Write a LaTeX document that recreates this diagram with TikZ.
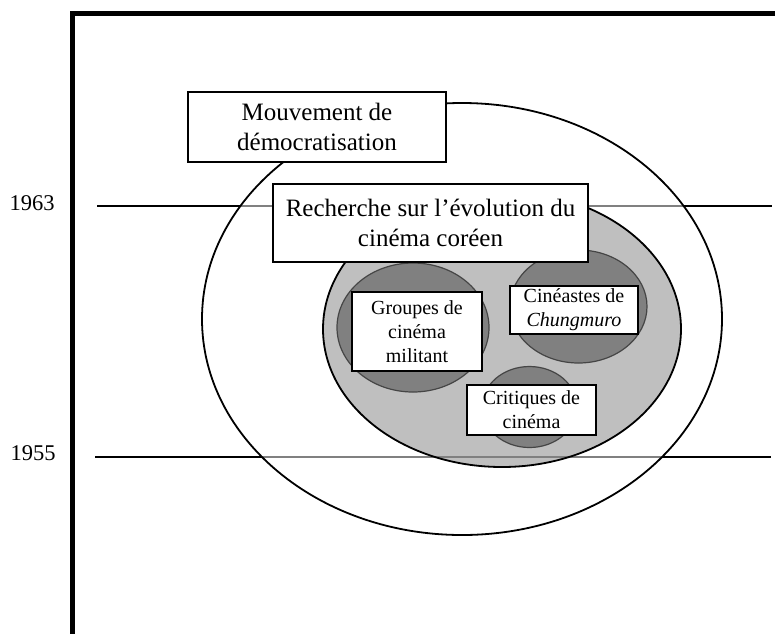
\documentclass[tikz,border=0pt]{standalone}
\usepackage{fontspec}
\setmainfont{Liberation Serif}
\usepackage{tikz}
\usetikzlibrary{positioning}
\definecolor{midgray}{gray}{0.5}
\definecolor{darkring}{gray}{0.27}

\begin{document}
\begin{tikzpicture}[x=1pt, y=-1pt,
        box/.style={draw, line width=1.7pt, fill=white, rectangle, align=center, inner sep=0pt},
        bigtext/.style={font=\fontsize{25}{30}\selectfont},
        smalltext/.style={font=\fontsize{20}{24}\selectfont},
        yearlab/.style={font=\fontsize{22.5}{24}\selectfont},
        yearline/.style={line width=1.8pt},
        subring/.style={draw=darkring, line width=1.2pt, fill=midgray}]
                \useasboundingbox (0, 0) rectangle (775, 633);
                % years
                \node [yearlab] (y63) at (32, 203) {1963};
                \node [yearlab] (y55) at (33, 453) {1955};
                \draw [yearline] (97, 206) -- (772, 206);
                \draw [yearline] (95, 457) -- (771, 457);
                % frame
                \draw [line width=4.5pt] (72.5, 640) -- (72.5, 13.5) -- (780, 13.5);
                % rings
                \draw [line width=1.8pt, fill=white, fill opacity=0.5] (462, 319) ellipse [x radius=260, y radius=216];
                \draw [line width=1.8pt, fill=black!50, fill opacity=0.5] (502, 329) ellipse [x radius=179, y radius=138];
                \draw [subring] (413, 327.5) ellipse [x radius=76, y radius=64.5];
                \draw [subring] (578.5, 306.5) ellipse [x radius=68.5, y radius=56.5];
                \draw [subring] (529.5, 407) ellipse [x radius=47.5, y radius=40.5];
                % labels
                \node [box, bigtext, minimum width=258, minimum height=70] (demo) at (317, 127) {Mouvement de\\démocratisation};
                \node [box, bigtext, minimum width=315, minimum height=78] (rech) at (430.5, 223) {Recherche sur l’évolution du\\cinéma coréen};
                \node [box, smalltext, minimum width=130, minimum height=79] (grp) at (417, 331.5) {Groupes de\\cinéma\\militant};
                \node [box, smalltext, minimum width=128, minimum height=48] (cin) at (574, 310) {Cinéastes de\\\textit{Chungmuro}};
                \node [box, smalltext, minimum width=129, minimum height=50] (crit) at (531.5, 410) {Critiques de\\cinéma};
            \end{tikzpicture}
\end{document}
